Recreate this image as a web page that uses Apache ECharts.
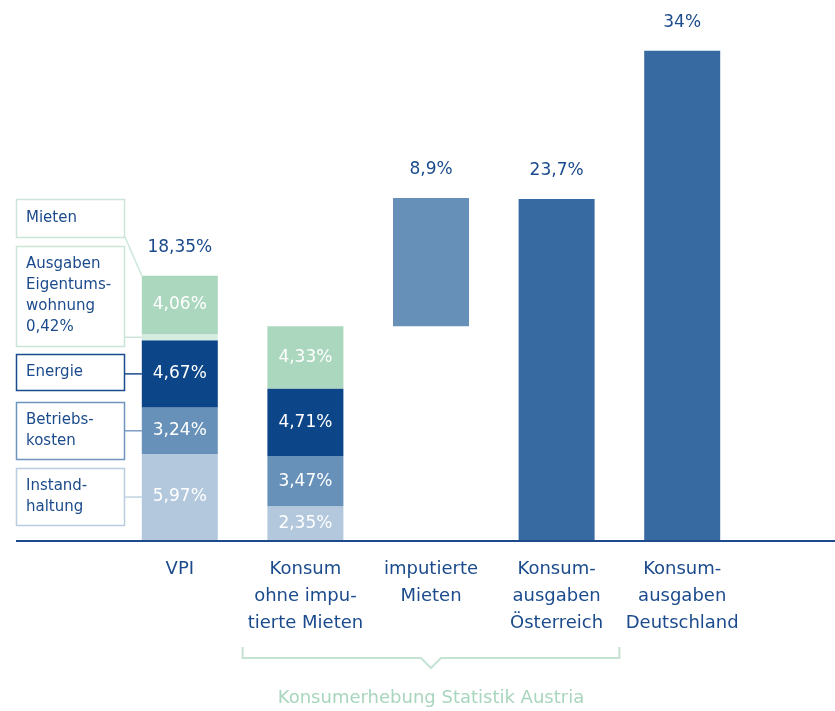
<!DOCTYPE html>
<html>
<head>
<meta charset="utf-8">
<script src="https://cdn.jsdelivr.net/npm/echarts@6/dist/echarts.min.js"></script>
<style>
  html, body { margin: 0; padding: 0; background: #fff; }
  #chart { width: 835px; height: 711px; }
</style>
</head>
<body>
<div id="chart"></div>
<script>
// Kategorien und Werte (in %)
const categories = ['VPI', 'Konsum\nohne impu-\ntierte Mieten', 'imputierte\nMieten', 'Konsum-\nausgaben\nÖsterreich', 'Konsum-\nausgaben\nDeutschland'];
const instandhaltung = [5.97, 2.35, null, null, null];
const betriebskosten = [3.24, 3.47, null, null, null];
const energie = [4.67, 4.71, null, null, null];
const eigentum = [0.42, null, null, null, null];
const mieten = [4.06, 4.33, null, null, null];
const imputierteMieten = [null, null, 8.9, null, null];
const konsumausgaben = [null, null, null, 23.7, 34];
const totals = [18.35, null, 8.9, 23.7, 34];
const boxLabels = ['Mieten', 'Ausgaben\nEigentums-\nwohnung\n0,42%', 'Energie', 'Betriebs-\nkosten', 'Instand-\nhaltung'];
const footer = 'Konsumerhebung Statistik Austria';

const TEXT = '#1b4b8c';
const FONT = '"DejaVu Sans", sans-serif';

const fmt = v => String(v).replace('.', ',') + '%';
const clean = arr => arr.map(v => (v == null ? '-' : v));

// floating base for "imputierte Mieten" = sum of the consumption parts
const konsumSum = [instandhaltung, betriebskosten, energie, eigentum, mieten]
  .reduce((s, a) => s + (a[1] || 0), 0);
const base = imputierteMieten.map(v => (v == null ? '-' : konsumSum));
const totalMarks = totals.map(v => (v == null ? '-' : 0));

const chart = echarts.init(document.getElementById('chart'));

function segment(name, data, color, showLabel) {
  return {
    name: name,
    type: 'bar',
    stack: 'a',
    barWidth: 76,
    data: clean(data),
    itemStyle: { color: color },
    label: {
      show: showLabel,
      position: 'inside',
      color: '#fff',
      fontSize: 17,
      fontFamily: FONT,
      formatter: p => fmt(p.value)
    }
  };
}

chart.setOption({
  animation: false,
  grid: { left: 117, right: 90, top: 22, bottom: 171 },
  xAxis: {
    type: 'category',
    data: categories,
    axisLine: { show: false },
    axisTick: { show: false },
    axisLabel: {
      color: TEXT,
      fontSize: 18,
      lineHeight: 27,
      margin: 16,
      fontFamily: FONT,
      interval: 0
    }
  },
  yAxis: {
    type: 'value',
    min: 0,
    max: 36,
    show: false,
    splitLine: { show: false }
  },
  series: [
    {
      name: 'base',
      type: 'bar',
      stack: 'a',
      barWidth: 76,
      data: base,
      itemStyle: { color: 'transparent' },
      silent: true
    },
    segment('Instandhaltung', instandhaltung, '#b3c8dd', true),
    segment('Betriebskosten', betriebskosten, '#6891b9', true),
    segment('Energie', energie, '#0c4689', true),
    segment('Ausgaben Eigentumswohnung', eigentum, '#d6ece1', false),
    segment('Mieten', mieten, '#abd7be', true),
    segment('imputierte Mieten', imputierteMieten, '#6690b8', false),
    segment('Konsumausgaben', konsumausgaben, '#366aa0', false),
    {
      name: 'total',
      type: 'bar',
      stack: 'a',
      barWidth: 76,
      data: totalMarks,
      itemStyle: { color: 'transparent' },
      label: {
        show: true,
        position: 'top',
        distance: 20,
        color: TEXT,
        fontSize: 17,
        fontFamily: FONT,
        formatter: p => fmt(totals[p.dataIndex])
      }
    }
  ]
});

// annotations: left boxes, connectors, baseline, bracket
const px = (i, v) => chart.convertToPixel({ xAxisIndex: 0, yAxisIndex: 0 }, [i, v]);
const band = px(1, 0)[0] - px(0, 0)[0];
const baseY = px(0, 0)[1];
const barLeft = px(0, 0)[0] - 38;

let acc = 0;
const mid = v => { const m = acc + v / 2; acc += v; return px(0, m)[1]; };
const yInst = mid(instandhaltung[0]);
const yBetr = mid(betriebskosten[0]);
const yEner = mid(energie[0]);
const yEig = mid(eigentum[0]);
const yMietTop = px(0, acc + mieten[0])[1];

const boxes = [
  { y: 199, h: 38, stroke: '#cbe6d8' },
  { y: 246, h: 100, stroke: '#cbe6d8' },
  { y: 354, h: 36, stroke: '#1b4b8c' },
  { y: 402, h: 57, stroke: '#6e95bd' },
  { y: 468, h: 57, stroke: '#b9cce0' }
];

const graphic = [];
boxes.forEach((b, i) => {
  graphic.push({
    type: 'rect',
    shape: { x: 16.5, y: b.y + 0.5, width: 108, height: b.h },
    style: { fill: '#fff', stroke: b.stroke, lineWidth: 1.5 }
  });
  graphic.push({
    type: 'text',
    x: 26,
    y: b.y + b.h / 2,
    style: {
      text: boxLabels[i],
      fill: TEXT,
      font: '15px ' + FONT,
      lineHeight: 21,
      verticalAlign: 'middle'
    }
  });
});

const conn = (x1, y1, x2, y2, color) => ({
  type: 'line',
  shape: { x1: x1, y1: y1, x2: x2, y2: y2 },
  style: { stroke: color, lineWidth: 1.5 }
});
graphic.push(conn(125, 237, barLeft, yMietTop, '#cbe6d8'));
graphic.push(conn(125, yEig, barLeft, yEig, '#cbe6d8'));
graphic.push(conn(125, yEner, barLeft, yEner, '#1b4b8c'));
graphic.push(conn(125, yBetr, barLeft, yBetr, '#7b9fc4'));
graphic.push(conn(125, yInst, barLeft, yInst, '#c0d2e3'));

// baseline
graphic.push({
  type: 'line',
  shape: { x1: 16, y1: baseY + 1, x2: 835, y2: baseY + 1 },
  style: { stroke: '#1b4b8c', lineWidth: 2 }
});

// bracket under the Konsumerhebung categories
const bx1 = px(1, 0)[0] - band / 2;
const bx2 = px(3, 0)[0] + band / 2;
const bc = px(2, 0)[0];
graphic.push({
  type: 'polyline',
  shape: { points: [[bx1, 647], [bx1, 658], [bc - 10, 658], [bc, 668], [bc + 10, 658], [bx2, 658], [bx2, 647]] },
  style: { stroke: '#c5e3d3', lineWidth: 2, fill: null }
});
graphic.push({
  type: 'text',
  x: bc,
  y: 698,
  style: {
    text: footer,
    fill: '#a8d5bd',
    font: '18px ' + FONT,
    align: 'center',
    verticalAlign: 'middle'
  }
});

chart.setOption({ graphic: graphic });
</script>
</body>
</html>
